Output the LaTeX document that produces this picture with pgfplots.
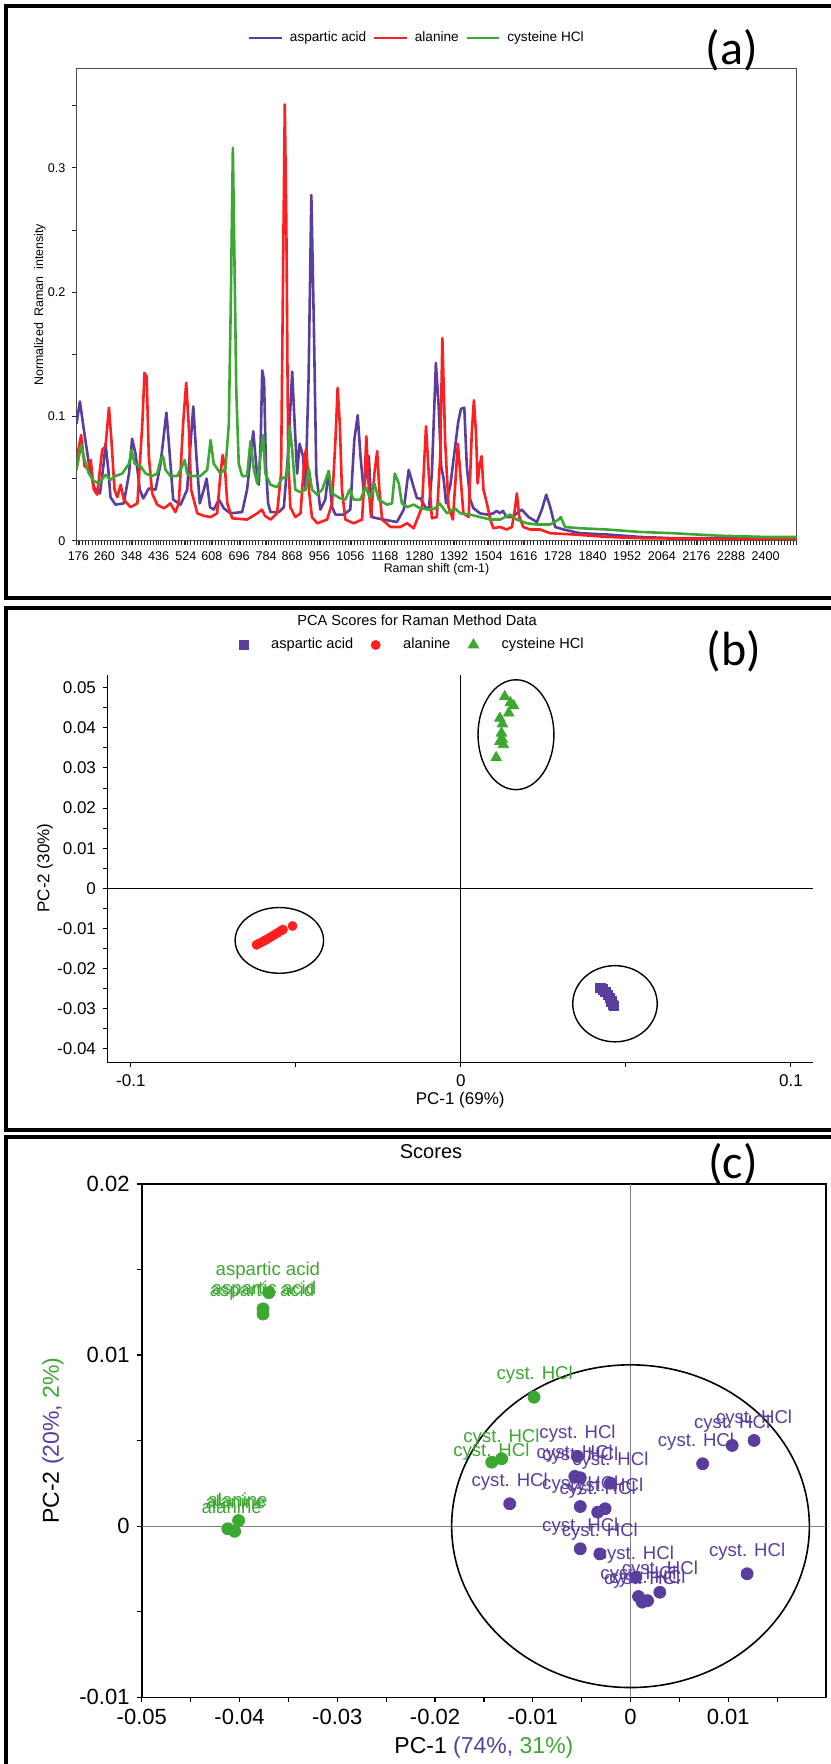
\documentclass[border=0pt]{standalone}
\usepackage{fontspec}
\setmainfont{Liberation Sans}
\newfontfamily\calibri{Carlito}
\usepackage{pgfplots}
\usepackage{pgfplotstable}
\pgfplotsset{compat=1.18}
\definecolor{asp}{HTML}{5A3E9E}
\definecolor{ala}{HTML}{FF1F1F}
\definecolor{cys}{HTML}{3CA832}
\newcommand{\fs}[1]{\fontsize{#1}{#1}\selectfont}

% (a) spectra, wavenumber vs normalized intensity
\pgfplotstableread{
wn I
170 0.094
181 0.112
194 0.089
210 0.062
226 0.043
246 0.038
257 0.060
264 0.078
273 0.057
280 0.035
296 0.029
323 0.030
340 0.054
350 0.082
361 0.070
375 0.041
386 0.034
404 0.042
426 0.041
442 0.062
461 0.103
469 0.078
483 0.033
507 0.029
528 0.041
548 0.108
558 0.068
569 0.030
582 0.041
591 0.050
602 0.027
614 0.025
631 0.033
647 0.026
668 0.022
706 0.023
722 0.041
742 0.088
754 0.054
760 0.045
766 0.080
771 0.137
777 0.129
783 0.060
790 0.030
798 0.023
825 0.023
841 0.027
854 0.068
868 0.136
876 0.094
884 0.054
892 0.078
903 0.068
911 0.041
921 0.130
930 0.278
938 0.175
946 0.054
959 0.025
975 0.033
986 0.056
997 0.027
1008 0.021
1035 0.021
1056 0.025
1069 0.081
1080 0.101
1089 0.068
1099 0.041
1108 0.055
1116 0.068
1126 0.019
1143 0.018
1164 0.017
1207 0.015
1229 0.025
1245 0.057
1261 0.043
1272 0.034
1283 0.034
1299 0.027
1310 0.025
1320 0.054
1333 0.143
1342 0.108
1350 0.060
1358 0.050
1366 0.030
1380 0.045
1395 0.075
1405 0.095
1414 0.106
1425 0.107
1433 0.060
1444 0.033
1455 0.026
1476 0.022
1498 0.021
1519 0.022
1530 0.024
1540 0.022
1550 0.024
1562 0.019
1579 0.019
1611 0.025
1633 0.019
1660 0.015
1676 0.025
1690 0.037
1703 0.027
1719 0.011
1746 0.009
1800 0.006
1886 0.005
1994 0.003
2100 0.002
2300 0.002
2500 0.002
}\asp

\pgfplotstableread{
wn I
170 0.065
185 0.085
196 0.060
206 0.058
216 0.065
226 0.041
237 0.037
253 0.073
264 0.076
275 0.107
283 0.081
293 0.041
302 0.035
313 0.045
323 0.033
345 0.027
367 0.030
383 0.094
390 0.135
397 0.132
404 0.068
415 0.038
431 0.029
453 0.026
474 0.030
490 0.023
501 0.030
515 0.094
525 0.127
533 0.094
541 0.041
561 0.022
582 0.020
604 0.019
625 0.022
636 0.054
643 0.069
650 0.060
658 0.030
674 0.018
722 0.017
755 0.022
770 0.025
780 0.020
798 0.017
819 0.022
832 0.054
839 0.229
844 0.351
849 0.256
855 0.068
862 0.027
878 0.019
895 0.022
908 0.068
914 0.074
922 0.041
932 0.019
949 0.014
981 0.017
997 0.030
1008 0.081
1015 0.123
1022 0.094
1029 0.041
1040 0.017
1067 0.014
1094 0.017
1103 0.054
1108 0.084
1116 0.041
1123 0.019
1134 0.054
1143 0.072
1150 0.041
1159 0.017
1186 0.011
1218 0.011
1240 0.014
1261 0.010
1288 0.027
1301 0.092
1310 0.054
1320 0.018
1336 0.019
1347 0.068
1354 0.163
1363 0.080
1374 0.027
1388 0.017
1395 0.043
1404 0.078
1412 0.054
1422 0.022
1439 0.019
1449 0.086
1456 0.113
1463 0.086
1468 0.046
1474 0.060
1481 0.068
1487 0.041
1498 0.030
1509 0.017
1519 0.010
1541 0.011
1562 0.009
1579 0.011
1589 0.026
1595 0.038
1603 0.019
1616 0.011
1638 0.009
1670 0.009
1703 0.006
1778 0.005
1886 0.003
1994 0.002
2200 0.0015
2500 0.0015
}\ala

\pgfplotstableread{
wn I
170 0.057
185 0.077
196 0.065
210 0.054
226 0.048
243 0.046
264 0.053
280 0.049
296 0.052
318 0.054
340 0.062
348 0.073
358 0.062
377 0.060
394 0.054
415 0.052
431 0.054
442 0.065
450 0.068
458 0.057
474 0.052
496 0.052
512 0.060
520 0.065
528 0.054
544 0.052
571 0.052
593 0.057
604 0.081
614 0.062
636 0.054
652 0.058
663 0.094
670 0.202
676 0.316
681 0.229
687 0.121
695 0.062
706 0.052
722 0.052
733 0.080
744 0.057
755 0.046
765 0.068
774 0.085
781 0.054
798 0.045
819 0.043
835 0.050
852 0.052
860 0.092
868 0.073
878 0.041
895 0.039
911 0.041
922 0.058
932 0.041
949 0.037
965 0.041
986 0.056
997 0.038
1024 0.034
1040 0.033
1054 0.041
1067 0.033
1089 0.033
1105 0.043
1121 0.034
1134 0.046
1148 0.033
1175 0.029
1191 0.030
1200 0.054
1213 0.046
1223 0.030
1240 0.027
1261 0.029
1283 0.026
1310 0.025
1331 0.026
1345 0.030
1369 0.022
1395 0.026
1412 0.022
1444 0.021
1476 0.019
1509 0.017
1541 0.017
1573 0.021
1595 0.017
1627 0.014
1660 0.013
1703 0.013
1730 0.017
1737 0.019
1751 0.011
1800 0.010
1886 0.009
1994 0.007
2100 0.006
2250 0.004
2400 0.003
2500 0.003
}\cys

% (b) PCA scores
\pgfplotstableread{
x y
0.0423 -0.0249
0.0430 -0.0252
0.0438 -0.0258
0.0445 -0.0266
0.0452 -0.0274
0.0456 -0.0282
0.0460 -0.0290
0.0463 -0.0293
}\bAsp
\pgfplotstableread{
x y
-0.0619 -0.0141
-0.0610 -0.0137
-0.0600 -0.0133
-0.0592 -0.0129
-0.0583 -0.0125
-0.0575 -0.0121
-0.0565 -0.0116
-0.0555 -0.0111
-0.0545 -0.0106
-0.0539 -0.0103
-0.0510 -0.0094
}\bAla
\pgfplotstableread{
x y
0.0133 0.0478
0.0150 0.0463
0.0160 0.0455
0.0145 0.0437
0.0118 0.0424
0.0126 0.0410
0.0123 0.0387
0.0125 0.0372
0.0118 0.0366
0.0129 0.0358
0.0107 0.0326
}\bCys

% (c) scores, points and label positions
\pgfplotstableread{
x y
0.01264 0.00501
0.0104 0.00472
0.00738 0.00365
0.01193 -0.00278
-0.01236 0.00131
-0.00542 0.00408
-0.0057 0.00291
-0.00514 0.00283
-0.00206 0.00251
-0.00514 0.00115
-0.00336 0.00082
-0.0026 0.00102
-0.00514 -0.00132
-0.00314 -0.00162
0.00055 -0.00298
0.003 -0.00386
0.00082 -0.00411
0.0012 -0.00444
0.00174 -0.00435
}\cPur
\pgfplotstableread[col sep=comma]{
x,y,lab
0.01264,0.00631,cyst. HCl
0.0104,0.00602,cyst. HCl
0.0067,0.00495,cyst. HCl
0.01193,-0.00148,cyst. HCl
-0.01236,0.00261,cyst. HCl
-0.00542,0.00538,cyst. HCl
-0.0057,0.00421,cyst. HCl
-0.00514,0.00413,cyst. HCl
-0.00206,0.00381,cyst. HCl
-0.00514,0.00245,cyst. HCl
-0.00336,0.00212,cyst. HCl
-0.0026,0.00232,cyst. HCl
-0.00514,-0.00002,cyst. HCl
-0.00314,-0.00032,cyst. HCl
0.00055,-0.00168,cyst. HCl
0.003,-0.00256,cyst. HCl
0.00082,-0.00281,cyst. HCl
0.0012,-0.00314,cyst. HCl
0.00174,-0.00305,cyst. HCl
}\cPurLab
\pgfplotstableread{
x y
-0.0370 0.01365
-0.0376 0.0127
-0.0376 0.0124
-0.0401 0.00033
-0.0412 -0.00015
-0.0405 -0.0003
-0.00987 0.00754
-0.01318 0.00394
-0.0142 0.00374
}\cGrn
\pgfplotstableread[col sep=comma]{
x,y,lab
-0.0371,0.01494,aspartic acid
-0.0375,0.01382,aspartic acid
-0.0377,0.01370,aspartic acid
-0.0402,0.00154,alanine
-0.0404,0.00140,alanine
-0.0408,0.00111,alanine
-0.0098,0.00885,cyst. HCl
-0.0132,0.0052,cyst. HCl
-0.01424,0.00437,cyst. HCl
}\cGrnLab

\begin{document}
\begin{tikzpicture}
\useasboundingbox (0,0) rectangle (415pt,882pt);

% ---------- (a)
\begin{axis}[
  at={(38.25pt,611.65pt)}, anchor=south west,
  scale only axis, width=360pt, height=235.85pt,
  xmin=170, xmax=2500, ymin=0, ymax=0.3795,
  axis line style={black!70, line width=0.5pt},
  tick pos=left, tick align=outside,
  major tick length=2pt, minor tick length=2pt,
  tick style={black!85, line width=0.4pt},
  xtick={176,260,348,436,524,608,696,784,868,956,1056,1168,1280,1392,1504,1616,1728,1840,1952,2064,2176,2288,2400},
  xticklabels={176,260,348,436,524,608,696,784,868,956,1056,1168,1280,1392,1504,1616,1728,1840,1952,2064,2176,2288,2400},
  minor xtick={170,180,...,2500},
  ytick={0,0.1,0.2,0.3}, yticklabels={0,0.1,0.2,0.3},
  minor ytick={0.05,0.15,0.25,0.35},
  scaled ticks=false,
  ticklabel style={font=\fs{6.3pt}},
  xlabel={Raman shift (cm-1)},
  ylabel={Normalized\ \ Raman\ \ intensity},
  label style={font=\fs{6.2pt}},
  xlabel style={at={(axis description cs:0.5,-0.06)}, anchor=center},
  ylabel style={at={(axis description cs:-0.0507,0.5)}, anchor=center},
  legend style={at={(0.2376,1.0657)}, anchor=west, draw=none, fill=none,
    legend columns=3, font=\fs{6.8pt}, inner sep=0pt, nodes={inner sep=0pt},
    /tikz/every odd column/.style={column sep=3.5pt},
    /tikz/every even column/.style={column sep=3.3pt}},
  legend image code/.code={\draw[#1] (0pt,0pt) -- (16.2pt,0pt);},
]
\addplot[asp, line width=1.3pt, line join=round] table[x=wn,y=I] {\asp};
\addlegendentry{aspartic acid}
\addplot[ala, line width=1.3pt, line join=round] table[x=wn,y=I] {\ala};
\addlegendentry{alanine\hspace{15.7pt}}
\addplot[cys, line width=1.3pt, line join=round] table[x=wn,y=I] {\cys};
\addlegendentry{cysteine HCl}
\end{axis}

% ---------- (b)
\begin{axis}[
  at={(53.7pt,350.65pt)}, anchor=south west,
  scale only axis, width=352.8pt, height=193.85pt,
  xmin=-0.1071, xmax=0.1067, ymin=-0.0435, ymax=0.0532,
  axis x line*=bottom, axis y line*=left,
  axis line style={black, line width=0.6pt},
  tick align=outside, major tick length=2.2pt, minor tick length=2.2pt,
  tick style={black, line width=0.5pt},
  scaled ticks=false,
  xtick={-0.1,0,0.1}, xticklabels={-0.1,0,0.1}, minor xtick={-0.05,0.05},
  ytick={-0.04,-0.03,-0.02,-0.01,0,0.01,0.02,0.03,0.04,0.05},
  yticklabels={-0.04,-0.03,-0.02,-0.01,0,0.01,0.02,0.03,0.04,0.05},
  minor ytick={-0.035,-0.025,-0.015,-0.005,0.005,0.015,0.025,0.035,0.045},
  ticklabel style={font=\fs{8.5pt}},
  xlabel={PC-1 (69\%)}, ylabel={PC-2 (30\%)},
  label style={font=\fs{8.5pt}},
  xlabel style={at={(axis description cs:0.5,-0.0962)}, anchor=center},
  ylabel style={at={(axis description cs:-0.0884,0.502)}, anchor=center},
  title={PCA Scores for Raman Method Data},
  every axis title shift=0pt,
  title style={at={(axis description cs:0.4388,1.1419)}, anchor=center, font=\fs{7.3pt}},
  legend style={at={(0.186,1.0774)}, anchor=west, draw=none, fill=none,
    legend columns=3, font=\fs{7.3pt}, inner sep=0pt, nodes={inner sep=0pt},
    /tikz/every odd column/.style={column sep=11.5pt},
    /tikz/every even column/.style={column sep=9pt}},
  legend image code/.code={\draw[#1] plot coordinates {(0pt,0pt)};},
  clip=false,
]
\draw[black, line width=0.6pt] (axis cs:0,-0.0435) -- (axis cs:0,0.0532);
\draw[black, line width=0.6pt] (axis cs:-0.1071,0) -- (axis cs:0.1067,0);
\addplot[only marks, mark=square*, mark size=2.3pt, color=asp] table[x=x,y=y] {\bAsp};
\addlegendentry{aspartic acid}
\addplot[only marks, mark=*, mark size=2.25pt, color=ala] table[x=x,y=y] {\bAla};
\addlegendentry{alanine\hspace{27pt}}
\addplot[only marks, mark=triangle*, mark size=3pt, color=cys] table[x=x,y=y] {\bCys};
\addlegendentry{cysteine HCl}
\draw[black, line width=0.7pt] (axis cs:0.0167,0.0383) ellipse [x radius=0.0115, y radius=0.0137];
\draw[black, line width=0.7pt] (axis cs:-0.055,-0.013) ellipse [x radius=0.0134, y radius=0.0082];
\draw[black, line width=0.7pt] (axis cs:0.0467,-0.0288) ellipse [x radius=0.0128, y radius=0.0095];
\end{axis}

% ---------- (c)
\begin{axis}[
  at={(70.9pt,33.35pt)}, anchor=south west,
  scale only axis, width=342.1pt, height=256.65pt,
  xmin=-0.05, xmax=0.02, ymin=-0.01, ymax=0.02,
  axis line style={black, line width=0.7pt},
  tick pos=left, tick align=outside,
  major tick length=2.6pt, minor tick length=2.6pt,
  tick style={black, line width=0.6pt},
  scaled ticks=false,
  xtick={-0.05,-0.04,-0.03,-0.02,-0.01,0,0.01},
  xticklabels={-0.05,-0.04,-0.03,-0.02,-0.01,0,0.01},
  minor xtick={-0.045,-0.035,-0.025,-0.015,-0.005,0.005,0.015},
  ytick={-0.01,0,0.01,0.02}, yticklabels={-0.01,0,0.01,0.02},
  minor ytick={-0.005,0.005,0.015},
  ticklabel style={font=\fs{11pt}},
  xlabel={PC-1 \textcolor{asp}{(74\%,} \textcolor{cys}{31\%)}},
  ylabel={PC-2 \textcolor{asp}{(20\%,} \textcolor{cys}{2\%)}},
  label style={font=\fs{11.5pt}},
  xlabel style={at={(axis description cs:0.5,-0.0988)}, anchor=center},
  ylabel style={at={(axis description cs:-0.1298,0.5)}, anchor=center},
  title={Scores},
  every axis title shift=0pt,
  title style={at={(axis description cs:0.4227,1.0623)}, anchor=center, font=\fs{10pt}},
  clip=false,
]
\draw[black!50, line width=0.5pt] (axis cs:0,-0.01) -- (axis cs:0,0.02);
\draw[black!50, line width=0.5pt] (axis cs:-0.05,0) -- (axis cs:0.02,0);
\draw[black, line width=0.8pt] (axis cs:0,0) ellipse [x radius=0.0183, y radius=0.00943];
\addplot[only marks, mark=*, mark size=3pt, color=cys] table[x=x,y=y] {\cGrn};
\addplot[only marks, mark=*, mark size=3pt, color=asp] table[x=x,y=y] {\cPur};
\addplot[only marks, mark=none, nodes near coords, point meta=explicit symbolic,
  nodes near coords style={anchor=center, inner sep=0pt, font=\fs{9.3pt}, text=cys}]
  table[x=x,y=y,meta=lab] {\cGrnLab};
\addplot[only marks, mark=none, nodes near coords, point meta=explicit symbolic,
  nodes near coords style={anchor=center, inner sep=0pt, font=\fs{9.3pt}, text=asp}]
  table[x=x,y=y,meta=lab] {\cPurLab};
\end{axis}

% panel frames and letters
\draw[black, line width=1.6pt] (420pt,879pt) -- (3pt,879pt) -- (3pt,583pt) -- (420pt,583pt);
\draw[black, line width=1.6pt] (420pt,578pt) -- (3pt,578pt) -- (3pt,317pt) -- (420pt,317pt);
\draw[black, line width=1.6pt] (420pt,313.5pt) -- (3pt,313.5pt) -- (3pt,-5pt);
\node[font=\calibri\fs{24pt}] at (366pt,857pt) {(a)};
\node[font=\calibri\fs{24pt}] at (367pt,556.5pt) {(b)};
\node[font=\calibri\fs{24pt}] at (366.5pt,300pt) {(c)};
\end{tikzpicture}
\end{document}
